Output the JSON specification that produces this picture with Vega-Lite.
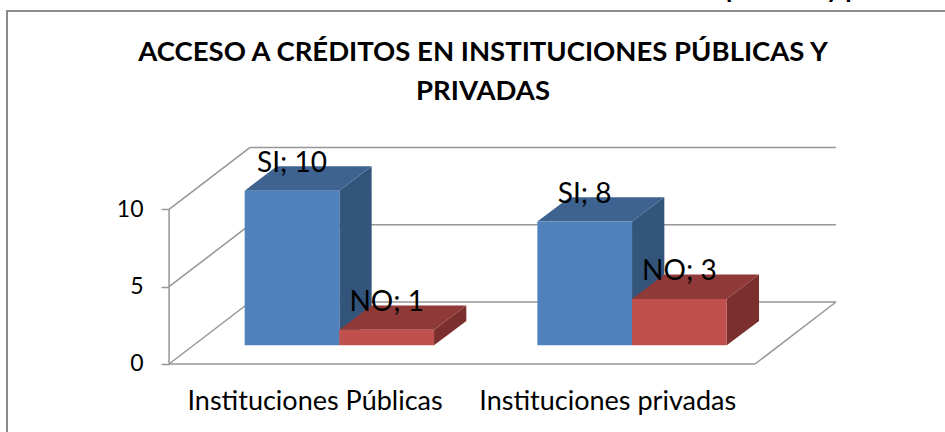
{
"$schema":"https://vega.github.io/schema/vega-lite/v6.json",
"width":960,"height":430,"autosize":"none","padding":{"left":7,"top":11,"right":0,"bottom":0},
"background":"white",
"view":{"stroke":"#8c8c8c","strokeWidth":2},
"datasets":{
"bars":[
{"category":"Instituciones Públicas","series":"SI","value":10},
{"category":"Instituciones Públicas","series":"NO","value":1},
{"category":"Instituciones privadas","series":"SI","value":8},
{"category":"Instituciones privadas","series":"NO","value":3}],
"ticks":[{"tick":0},{"tick":5},{"tick":10}],
"cut":[{"text":"públicas y privadas"}],
"titleLines":[{"line":"ACCESO A CRÉDITOS EN INSTITUCIONES PÚBLICAS Y","n":0},{"line":"PRIVADAS","n":1}]
},
"data":{"name":"bars"},
"transform":[
{"calculate":"datum.category==='Instituciones Públicas'?0:1","as":"cat"},
{"calculate":"datum.cat+(datum.series==='SI'?-0.3235:0)","as":"x0"},
{"calculate":"datum.x0+0.3235","as":"x1"},
{"calculate":"datum.x0+0.16175","as":"xc"},
{"calculate":"1.21","as":"yb"},
{"calculate":"datum.value+1.21","as":"yt"},
{"calculate":"datum.category+datum.series","as":"bar"}
],
"layer":[
{"data":{"name":"ticks"},
 "transform":[{"calculate":"-0.5818","as":"fx"},{"calculate":"-0.3049","as":"bx"},{"calculate":"datum.tick+4.01","as":"by"}],
 "mark":{"type":"rule","color":"#969696","strokeWidth":1.5},
 "encoding":{
 "x":{"field":"fx","type":"quantitative","axis":null,"scale":{"domain":[-1.1355,2.1444],"nice":false,"zero":false}},
 "x2":{"field":"bx"},
 "y":{"field":"tick","type":"quantitative","title":null,"scale":{"domain":[-4.98,22.83],"nice":false,"zero":false},
   "axis":{"values":[0,5,10],"orient":"left","offset":-162,"domain":false,"grid":false,"ticks":true,"labels":true,"tickSize":8,"tickWidth":1.5,"tickColor":"#969696","labelPadding":18,"labelFont":"Lato","labelFontSize":23,"labelColor":"black","zindex":1}},
 "y2":{"field":"by"}}},
{"data":{"name":"ticks"},
 "transform":[{"calculate":"-0.3049","as":"bx"},{"calculate":"1.6967","as":"ex"},{"calculate":"datum.tick+4.01","as":"by"}],
 "mark":{"type":"rule","color":"#969696","strokeWidth":1.5},
 "encoding":{
 "x":{"field":"bx","type":"quantitative","axis":null,"scale":{"domain":[-1.1355,2.1444],"nice":false,"zero":false}},
 "x2":{"field":"ex"},
 "y":{"field":"by","type":"quantitative","title":null,"scale":{"domain":[-4.98,22.83],"nice":false,"zero":false}}}},
{"data":{"name":"ticks"},
 "transform":[{"filter":"datum.tick===0"},{"calculate":"-0.5818","as":"fx"},{"calculate":"1.4203","as":"ex"}],
 "mark":{"type":"rule","color":"#969696","strokeWidth":1.5},
 "encoding":{
 "x":{"field":"fx","type":"quantitative","axis":null,"scale":{"domain":[-1.1355,2.1444],"nice":false,"zero":false}},
 "x2":{"field":"ex"},
 "y":{"field":"tick","type":"quantitative","title":null,"scale":{"domain":[-4.98,22.83],"nice":false,"zero":false}}}},
{"data":{"name":"ticks"},
 "transform":[{"filter":"datum.tick===0"},{"calculate":"-0.5818","as":"fx"},{"calculate":"10","as":"top"}],
 "mark":{"type":"rule","color":"#969696","strokeWidth":1.5},
 "encoding":{
 "x":{"field":"fx","type":"quantitative","axis":null,"scale":{"domain":[-1.1355,2.1444],"nice":false,"zero":false}},
 "y":{"field":"tick","type":"quantitative","title":null,"scale":{"domain":[-4.98,22.83],"nice":false,"zero":false}},
 "y2":{"field":"top"}}},
{"data":{"name":"ticks"},
 "transform":[{"filter":"datum.tick===0"},{"calculate":"1.4203","as":"fx"},{"calculate":"1.6967","as":"ex"},{"calculate":"4.01","as":"by"}],
 "mark":{"type":"rule","color":"#969696","strokeWidth":1.5},
 "encoding":{
 "x":{"field":"fx","type":"quantitative","axis":null,"scale":{"domain":[-1.1355,2.1444],"nice":false,"zero":false}},
 "x2":{"field":"ex"},
 "y":{"field":"tick","type":"quantitative","title":null,"scale":{"domain":[-4.98,22.83],"nice":false,"zero":false}},
 "y2":{"field":"by"}}},
{"transform":[
 {"calculate":"0","as":"k0"},{"calculate":"1","as":"k1"},
 {"fold":["k0","k1"],"as":["kn","d"]},
 {"calculate":"datum.x1+datum.d*0.11035","as":"sx"},
 {"calculate":"datum.yb+datum.d*1.578","as":"sb"},
 {"calculate":"datum.yt+datum.d*1.578","as":"st"}],
 "mark":{"type":"area","orient":"vertical","line":false},
 "encoding":{
 "x":{"field":"sx","type":"quantitative","axis":null,"scale":{"domain":[-1.1355,2.1444],"nice":false,"zero":false}},
 "y":{"field":"st","type":"quantitative","title":null,"stack":null,"scale":{"domain":[-4.98,22.83],"nice":false,"zero":false}},
 "y2":{"field":"sb"},
 "detail":{"field":"bar"},
 "color":{"field":"series","type":"nominal","legend":null,"scale":{"domain":["SI","NO"],"range":["#33547b","#7b302e"]}}}},
{"mark":{"type":"point","filled":true,"opacity":1,"shape":"M-1,0 L1,0 L1.682,-0.5154 L-0.318,-0.5154 Z","size":8968},
 "encoding":{
 "x":{"field":"xc","type":"quantitative","axis":null,"scale":{"domain":[-1.1355,2.1444],"nice":false,"zero":false}},
 "y":{"field":"yt","type":"quantitative","title":null,"scale":{"domain":[-4.98,22.83],"nice":false,"zero":false}},
 "color":{"field":"series","type":"nominal","legend":null,"scale":{"domain":["SI","NO"],"range":["#3e6390","#8f3a38"]}}}},
{"mark":{"type":"rect"},
 "encoding":{
 "x":{"field":"x0","type":"quantitative","axis":null,"scale":{"domain":[-1.1355,2.1444],"nice":false,"zero":false}},
 "x2":{"field":"x1"},
 "y":{"field":"yt","type":"quantitative","title":null,"scale":{"domain":[-4.98,22.83],"nice":false,"zero":false}},
 "y2":{"field":"yb"},
 "color":{"field":"series","type":"nominal","legend":null,"scale":{"domain":["SI","NO"],"range":["#4f81bd","#c0504d"]}}}},
{"transform":[{"calculate":"datum.series+'; '+datum.value","as":"lab"}],
 "mark":{"type":"text","font":"Lato","fontSize":28,"color":"black","baseline":"alphabetic","align":"center","dy":-19},
 "encoding":{
 "x":{"field":"xc","type":"quantitative","axis":null,"scale":{"domain":[-1.1355,2.1444],"nice":false,"zero":false}},
 "y":{"field":"yt","type":"quantitative","title":null,"scale":{"domain":[-4.98,22.83],"nice":false,"zero":false}},
 "text":{"field":"lab"}}},
{"transform":[{"filter":"datum.series==='SI'"},{"calculate":"datum.cat-0.0829","as":"lx"},{"calculate":"-2.46","as":"ly"}],
 "mark":{"type":"text","font":"Lato","fontSize":27,"color":"black","baseline":"middle","align":"center"},
 "encoding":{
 "x":{"field":"lx","type":"quantitative","axis":null,"scale":{"domain":[-1.1355,2.1444],"nice":false,"zero":false}},
 "y":{"field":"ly","type":"quantitative","title":null,"scale":{"domain":[-4.98,22.83],"nice":false,"zero":false}},
 "text":{"field":"category"}}},
{"data":{"name":"titleLines"},
 "transform":[{"calculate":"0.491","as":"lx"},{"calculate":"19.6-datum.n*2.52","as":"ly"}],
 "mark":{"type":"text","font":"Lato","fontSize":27.5,"fontWeight":"bold","color":"black","baseline":"alphabetic","align":"center"},
 "encoding":{
 "x":{"field":"lx","type":"quantitative","axis":null,"scale":{"domain":[-1.1355,2.1444],"nice":false,"zero":false}},
 "y":{"field":"ly","type":"quantitative","title":null,"scale":{"domain":[-4.98,22.83],"nice":false,"zero":false}},
 "text":{"field":"line"}}},
{"data":{"name":"cut"},
 "transform":[{"calculate":"1.3207","as":"lx"},{"calculate":"23.68","as":"ly"}],
 "mark":{"type":"text","font":"Lato","fontSize":26,"fontWeight":"bold","color":"black","baseline":"alphabetic","align":"left"},
 "encoding":{
 "x":{"field":"lx","type":"quantitative","axis":null,"scale":{"domain":[-1.1355,2.1444],"nice":false,"zero":false}},
 "y":{"field":"ly","type":"quantitative","title":null,"scale":{"domain":[-4.98,22.83],"nice":false,"zero":false}},
 "text":{"field":"text"}}}
],
"resolve":{"scale":{"color":"independent"}}
}
